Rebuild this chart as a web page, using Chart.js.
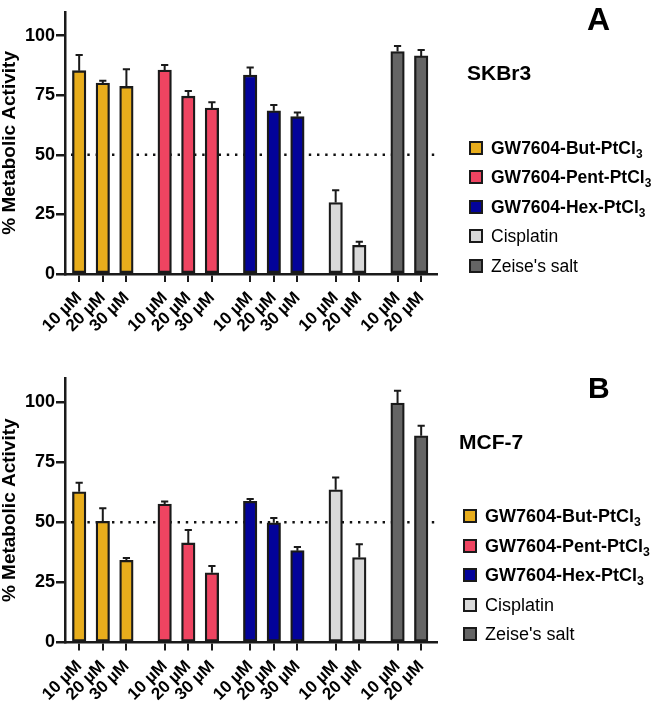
<!DOCTYPE html>
<html>
<head>
<meta charset="utf-8">
<script src="https://cdn.jsdelivr.net/npm/chart.js@4.4.1/dist/chart.umd.min.js"></script>
<style>
  html, body { margin: 0; padding: 0; background: #fff; }
  #wrap { position: relative; width: 664px; height: 704px; overflow: hidden; font-family: 'Liberation Sans', Arial, sans-serif; color: #000; }
  .panel { position: absolute; left: 0; width: 664px; height: 352px; }
  .lbl { position: absolute; font-weight: bold; line-height: 1; white-space: nowrap; }
  .row { position: absolute; height: 20px; display: flex; align-items: center; white-space: nowrap; line-height: 20px; }
  .sq { width: 14px; height: 14px; box-sizing: border-box; border: 2px solid #1a1a1a; flex: none; }
  .row span.t { margin-left: 8px; }
  .row sub { font-size: 0.68em; line-height: 0; vertical-align: -0.3em; }
</style>
</head>
<body>
<div id="wrap">
  <div class="panel" style="top:0"><canvas id="cA" width="664" height="352"></canvas></div>
  <div class="panel" style="top:352px"><canvas id="cB" width="664" height="352"></canvas></div>

  <div class="lbl" style="left:587px; top:3px; font-size:32px;">A</div>
  <div class="lbl" style="left:467px; top:61.5px; font-size:21px;">SKBr3</div>
  <div id="legA"></div>

  <div class="lbl" style="left:588px; top:373px; font-size:30px;">B</div>
  <div class="lbl" style="left:459px; top:430.5px; font-size:21px;">MCF-7</div>
  <div id="legB"></div>
</div>

<script>
// ---------------- DATA ----------------
const compounds = ['GW7604-But-PtCl3', 'GW7604-Pent-PtCl3', 'GW7604-Hex-PtCl3', 'Cisplatin', "Zeise's salt"];
const boldLegend = [true, true, true, false, false];
const doseLabels = [
  ['10 µM', '20 µM', '30 µM'],
  ['10 µM', '20 µM', '30 µM'],
  ['10 µM', '20 µM', '30 µM'],
  ['10 µM', '20 µM'],
  ['10 µM', '20 µM']
];
const yTickValues = [0, 25, 50, 75, 100];
const threshold = 50;

// Panel A: SKBr3 (mean, SD)
const skbr3But   = [85.3, 80.1, 78.7];   const skbr3ButErr   = [6.6, 1.0, 7.2];
const skbr3Pent  = [85.6, 74.6, 69.6];   const skbr3PentErr  = [2.1, 2.2, 2.5];
const skbr3Hex   = [83.4, 68.5, 66.0];   const skbr3HexErr   = [3.2, 2.4, 1.8];
const skbr3Cis   = [30.0, 12.0];         const skbr3CisErr   = [5.1, 1.5];
const skbr3Zeise = [93.3, 91.5];         const skbr3ZeiseErr = [2.4, 2.5];

// Panel B: MCF-7 (mean, SD)
const mcf7But   = [62.7, 50.4, 34.2];    const mcf7ButErr   = [3.7, 5.4, 0.9];
const mcf7Pent  = [57.6, 41.4, 29.0];    const mcf7PentErr  = [1.0, 5.4, 2.8];
const mcf7Hex   = [58.7, 49.8, 38.2];    const mcf7HexErr   = [1.0, 2.0, 1.5];
const mcf7Cis   = [63.5, 35.3];          const mcf7CisErr   = [5.1, 5.6];
const mcf7Zeise = [99.6, 86.0];          const mcf7ZeiseErr = [5.1, 4.1];

// ---------------- STYLE ----------------
const colors = ['#E8AD1C', '#EF4461', '#03039A', '#D9D9D9', '#656565'];
const edge = '#1a1a1a';
const GROUP_GAP = 1.62;
Chart.defaults.font.family = "'Liberation Sans', Arial, sans-serif";
Chart.defaults.color = '#000';

// bar positions along a linear index axis, derived from group sizes
function groupPositions() {
  let p = 0;
  return doseLabels.map(g => {
    const arr = g.map((_, i) => p + i);
    p += g.length - 1 + GROUP_GAP;
    return arr;
  });
}
const positions = groupPositions();
const allPos = positions.flat();
const allLabels = doseLabels.flat();

const refLinePlugin = {
  id: 'refLine',
  beforeDatasetsDraw(chart) {
    const {ctx, chartArea, scales} = chart;
    const y = scales.y.getPixelForValue(threshold);
    ctx.save();
    ctx.strokeStyle = '#111';
    ctx.lineWidth = 2.5;
    ctx.setLineDash([2.4, 5.8]);
    ctx.beginPath();
    ctx.moveTo(chartArea.left + 6, y);
    ctx.lineTo(chartArea.right, y);
    ctx.stroke();
    ctx.restore();
  }
};

const errorBarPlugin = {
  id: 'errBars',
  afterDatasetsDraw(chart) {
    const {ctx, scales} = chart;
    ctx.save();
    ctx.strokeStyle = edge;
    ctx.lineWidth = 2;
    chart.data.datasets.forEach((ds, di) => {
      const meta = chart.getDatasetMeta(di);
      meta.data.forEach((bar, i) => {
        const v = ds.data[i].y + ds.errors[i];
        const yTop = scales.y.getPixelForValue(v);
        ctx.beginPath();
        ctx.moveTo(bar.x, bar.y);
        ctx.lineTo(bar.x, yTop);
        ctx.moveTo(bar.x - 3.6, yTop);
        ctx.lineTo(bar.x + 3.6, yTop);
        ctx.stroke();
      });
    });
    ctx.restore();
  }
};

function makeChart(id, means, errs, padTop, xAxisH) {
  return new Chart(document.getElementById(id), {
    type: 'bar',
    data: {
      datasets: compounds.map((name, gi) => ({
        label: name,
        data: positions[gi].map((x, i) => ({x: x, y: means[gi][i]})),
        errors: errs[gi],
        backgroundColor: colors[gi],
        borderColor: edge,
        borderWidth: 2.3,
        borderSkipped: false,
        barThickness: 13.5
      }))
    },
    options: {
      responsive: false,
      animation: false,
      layout: { padding: { top: padTop, right: 227, left: 0, bottom: 0 } },
      plugins: { legend: { display: false }, tooltip: { enabled: false } },
      scales: {
        x: {
          type: 'linear',
          stacked: true,
          offset: false,
          min: -0.6,
          max: 15.15,
          afterFit: s => { s.height = xAxisH; },
          afterBuildTicks: s => { s.ticks = allPos.map(v => ({value: v})); },
          ticks: {
            autoSkip: false, maxRotation: 45, minRotation: 45,
            callback: (v, i) => allLabels[i],
            font: { size: 17, weight: 'bold' }, color: '#000', padding: 6
          },
          grid: { display: true, offset: false, drawOnChartArea: false, drawTicks: true, tickLength: 8, color: edge, lineWidth: 2 },
          border: { display: true, color: edge, width: 2.5 }
        },
        y: {
          min: 0, max: 110,
          afterFit: s => { s.width = 65; },
          afterBuildTicks: s => { s.ticks = yTickValues.map(v => ({value: v})); },
          ticks: { font: { size: 18, weight: 'bold' }, color: '#000', padding: 1 },
          grid: { display: true, drawOnChartArea: false, drawTicks: true, tickLength: 9, color: edge, lineWidth: 2.5 },
          border: { display: true, color: edge, width: 2.5 },
          title: { display: true, text: '% Metabolic Activity', font: { size: 19, weight: 'bold', lineHeight: 1 }, color: '#000', padding: 0 }
        }
      }
    },
    plugins: [refLinePlugin, errorBarPlugin]
  });
}

makeChart('cA',
  [skbr3But, skbr3Pent, skbr3Hex, skbr3Cis, skbr3Zeise],
  [skbr3ButErr, skbr3PentErr, skbr3HexErr, skbr3CisErr, skbr3ZeiseErr],
  8, 352 - 274);
makeChart('cB',
  [mcf7But, mcf7Pent, mcf7Hex, mcf7Cis, mcf7Zeise],
  [mcf7ButErr, mcf7PentErr, mcf7HexErr, mcf7CisErr, mcf7ZeiseErr],
  26, 352 - 290.5);

// legends (HTML text)
function buildLegend(elId, left, firstCenter, step, fontSize) {
  const el = document.getElementById(elId);
  compounds.forEach((name, i) => {
    const row = document.createElement('div');
    row.className = 'row';
    row.style.left = left + 'px';
    row.style.top = (firstCenter + i * step - 10) + 'px';
    row.style.fontSize = fontSize + 'px';
    const sq = document.createElement('div');
    sq.className = 'sq';
    sq.style.background = colors[i];
    const t = document.createElement('span');
    t.className = 't';
    t.style.fontWeight = boldLegend[i] ? 'bold' : 'normal';
    const m = name.match(/^(.*PtCl)3$/);
    if (m) {
      t.textContent = m[1];
      const sub = document.createElement('sub');
      sub.textContent = '3';
      t.appendChild(sub);
    } else {
      t.textContent = name;
    }
    row.appendChild(sq);
    row.appendChild(t);
    el.appendChild(row);
  });
}
buildLegend('legA', 469, 147.5, 29.5, 17.5);
buildLegend('legB', 463, 516, 29.6, 18);
</script>
</body>
</html>
